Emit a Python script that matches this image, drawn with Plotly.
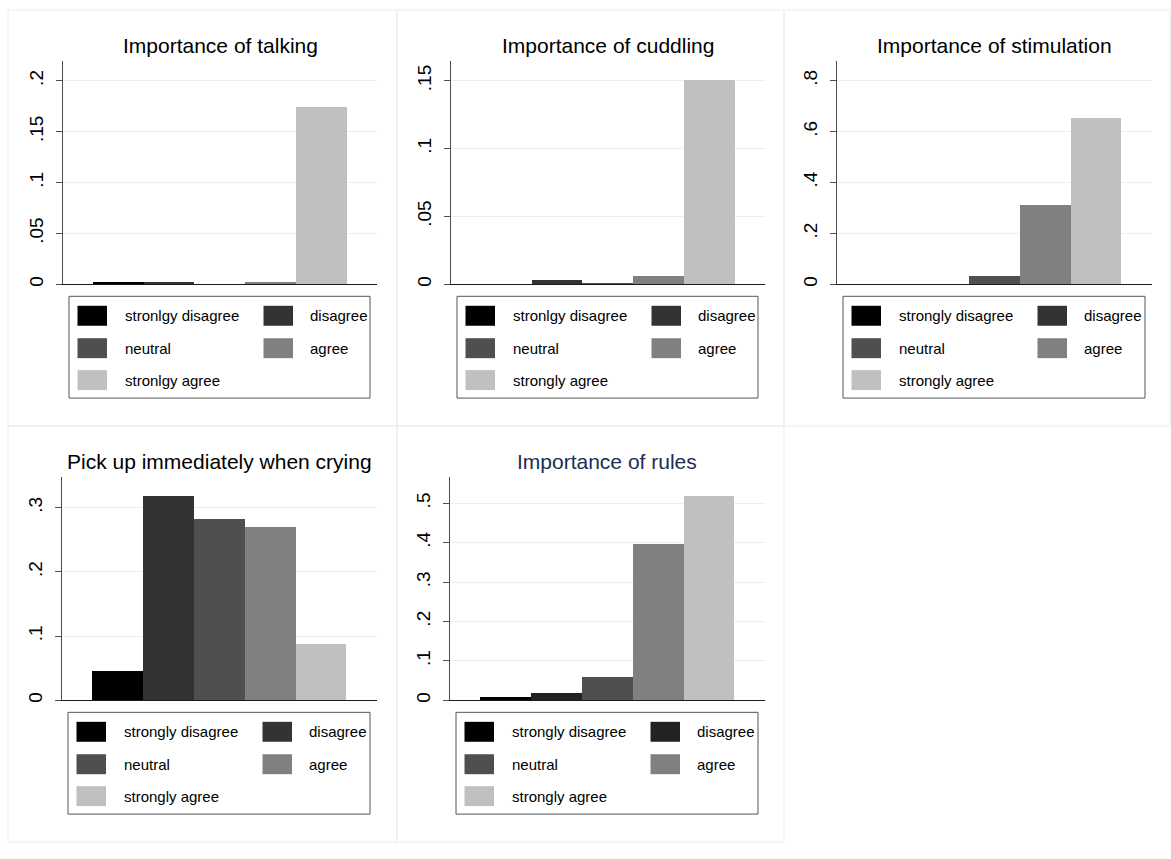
import plotly.graph_objects as go

# ---------------- data ----------------
titles = ["Importance of talking", "Importance of cuddling", "Importance of stimulation",
          "Pick up immediately when crying", "Importance of rules"]

talking = [0.002, 0.002, 0.0, 0.002, 0.174]
cuddling = [0.0, 0.003, 0.001, 0.0064, 0.151]
stimulation = [0.0, 0.0, 0.033, 0.3125, 0.654]
crying = [0.046, 0.319, 0.283, 0.2706, 0.0876]
rules = [0.009, 0.020, 0.060, 0.3975, 0.519]

labels_talking = ["stronlgy disagree", "disagree", "neutral", "agree", "stronlgy agree"]
labels_cuddling = ["stronlgy disagree", "disagree", "neutral", "agree", "strongly agree"]
labels_std = ["strongly disagree", "disagree", "neutral", "agree", "strongly agree"]

ticks_talking = [0, 0.05, 0.1, 0.15, 0.2]
ticktext_talking = ["0", ".05", ".1", ".15", ".2"]
ticks_cuddling = [0, 0.05, 0.1, 0.15]
ticktext_cuddling = ["0", ".05", ".1", ".15"]
ticks_stim = [0, 0.2, 0.4, 0.6, 0.8]
ticktext_stim = ["0", ".2", ".4", ".6", ".8"]
ticks_crying = [0, 0.1, 0.2, 0.3]
ticktext_crying = ["0", ".1", ".2", ".3"]
ticks_rules = [0, 0.1, 0.2, 0.3, 0.4, 0.5]
ticktext_rules = ["0", ".1", ".2", ".3", ".4", ".5"]

colors_std = ["#000000", "#333333", "#4f4f4f", "#808080", "#c0c0c0"]
colors_rules = ["#000000", "#222222", "#4f4f4f", "#808080", "#c0c0c0"]

positions = [1, 2, 3, 4, 5]

# ---------------- layout helpers ----------------
W, H = 1171, 859
FONT = "Liberation Sans, Arial, Helvetica, sans-serif"


def fx(px):
    return px / W


def fy(py):
    return 1 - py / H


panels = [
    dict(vals=talking, labels=labels_talking, tv=ticks_talking, tt=ticktext_talking, top=0.2196,
         colors=colors_std, box=(63, 377, 61, 285), title_color="#000000"),
    dict(vals=cuddling, labels=labels_cuddling, tv=ticks_cuddling, tt=ticktext_cuddling, top=0.1647,
         colors=colors_std, box=(451, 765, 61, 285), title_color="#000000"),
    dict(vals=stimulation, labels=labels_std, tv=ticks_stim, tt=ticktext_stim, top=0.878,
         colors=colors_std, box=(837, 1152, 61, 285), title_color="#000000"),
    dict(vals=crying, labels=labels_std, tv=ticks_crying, tt=ticktext_crying, top=0.348,
         colors=colors_std, box=(62, 377, 478, 702), title_color="#000000"),
    dict(vals=rules, labels=labels_std, tv=ticks_rules, tt=ticktext_rules, top=0.567,
         colors=colors_rules, box=(450, 765, 478, 702), title_color="#1e2d50"),
]

frames = [(8, 10, 397, 427), (397, 10, 784, 427), (784, 10, 1170, 427),
          (8, 427, 397, 844), (397, 427, 784, 844)]

fig = go.Figure()
shapes = []
annotations = []

for (x0, y0, x1, y1) in frames:
    shapes.append(dict(type="rect", xref="paper", yref="paper",
                       x0=fx(x0), x1=fx(x1), y0=fy(y1), y1=fy(y0),
                       line=dict(color="#e6eeef", width=1), fillcolor="rgba(0,0,0,0)", layer="below"))

for i, p in enumerate(panels):
    n = "" if i == 0 else str(i + 1)
    xa, ya = "x" + n, "y" + n
    left, right, top, base = p["box"]
    fig.add_trace(go.Bar(x=positions, y=p["vals"], width=1,
                         marker=dict(color=p["colors"], line=dict(width=0)),
                         showlegend=False, xaxis=xa, yaxis=ya,
                         hovertext=p["labels"]))
    fig.layout["xaxis" + n] = dict(domain=[fx(left), fx(right)], range=[-0.09, 6.1],
                                   anchor=ya, showgrid=False, zeroline=False,
                                   showticklabels=False, ticks="",
                                   showline=True, linecolor="#1a1a1a", linewidth=1.2,
                                   fixedrange=True)
    fig.layout["yaxis" + n] = dict(domain=[fy(base), fy(top)], range=[0, p["top"]],
                                   anchor=xa, tickvals=p["tv"], ticktext=p["tt"],
                                   tickangle=-90, tickfont=dict(size=19, color="#000000", family=FONT),
                                   ticks="outside", ticklen=6, tickcolor="#4d4d4d",
                                   ticklabelstandoff=5,
                                   showgrid=True, gridcolor="#e8f0f1", gridwidth=1,
                                   zeroline=False, showline=True, linecolor="#4d4d4d",
                                   linewidth=1.2, fixedrange=True)
    # title
    annotations.append(dict(text=titles[i], xref="paper", yref="paper",
                            x=fx((left + right) / 2), y=fy(base - 239.5),
                            xanchor="center", yanchor="middle", showarrow=False,
                            font=dict(size=21, color=p["title_color"], family=FONT)))
    # legend box
    shapes.append(dict(type="rect", xref="paper", yref="paper",
                       x0=fx(left + 6), x1=fx(right - 7), y0=fy(base + 114), y1=fy(base + 12),
                       line=dict(color="#555555", width=1), fillcolor="white"))
    row_offsets = [31.5, 31.5, 64, 64, 96]
    col_offsets = [0, 186, 0, 186, 0]
    for k in range(5):
        cy = base + row_offsets[k]
        sx = left + 14.5 + col_offsets[k]
        shapes.append(dict(type="rect", xref="paper", yref="paper",
                           x0=fx(sx), x1=fx(sx + 29.5), y0=fy(cy + 10), y1=fy(cy - 10),
                           line=dict(width=0), fillcolor=p["colors"][k]))
        annotations.append(dict(text=p["labels"][k], xref="paper", yref="paper",
                                x=fx(left + 60 + col_offsets[k] - (1 if col_offsets[k] else 0)),
                                y=fy(cy), xanchor="left", yanchor="middle", showarrow=False,
                                font=dict(size=15, color="#000000", family=FONT)))

fig.update_layout(width=W, height=H, margin=dict(l=0, r=0, t=0, b=0),
                  paper_bgcolor="white", plot_bgcolor="white",
                  shapes=shapes, annotations=annotations,
                  bargap=0, showlegend=False,
                  font=dict(family=FONT, color="#000000"))

fig.write_html("out.html", config={"displayModeBar": False},
               post_script="document.body.style.margin='0';document.body.style.padding='0';")
